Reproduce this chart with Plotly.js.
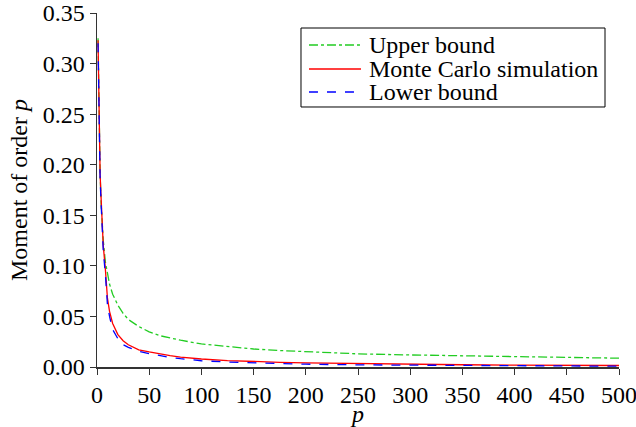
<!DOCTYPE html>
<html>
<head>
<meta charset="utf-8">
<script src="https://cdn.plot.ly/plotly-3.0.1.min.js"></script>
<style>html,body{margin:0;padding:0;background:#fff;}#chart{width:636px;height:427px;}</style>
</head>
<body>
<div id="chart"></div>
<script>
const pValues = [1,2,3,4,5,6,8,10,12,15,20,25,30,40,50,60,70,80,100,125,150,175,200,250,300,350,400,450,500];
const upperBound = [0.325,0.245,0.19,0.161,0.141,0.125,0.104,0.091,0.082,0.072,0.061,0.053,0.047,0.040,0.0347,0.031,0.0285,0.0265,0.0228,0.020,0.0178,0.0163,0.015,0.0130,0.0119,0.0109,0.0102,0.0095,0.0087];
const monteCarlo = [0.323,0.235,0.19,0.165,0.14,0.12,0.097,0.068,0.055,0.043,0.032,0.026,0.022,0.017,0.0149,0.0128,0.0112,0.0098,0.0079,0.0064,0.0053,0.0046,0.0040,0.0032,0.0026,0.0022,0.0019,0.0017,0.0015];
const lowerBound = [0.32,0.23,0.185,0.16,0.135,0.115,0.092,0.062,0.050,0.037,0.028,0.022,0.0195,0.0155,0.0132,0.011,0.0095,0.0082,0.0062,0.0049,0.0040,0.0033,0.0028,0.0021,0.0017,0.0014,0.0011,0.0010,0.0008];
const seriesNames = ["Upper bound","Monte Carlo simulation","Lower bound"];
const seriesColors = ["#22cc22","#ff0000","#0000ff"];
const seriesDash = ["dashdot","solid","dash"];
const seriesData = [upperBound, monteCarlo, lowerBound];

const font = "Liberation Serif";
const traces = seriesData.map((ys, i) => ({
  x: pValues, y: ys, name: seriesNames[i], mode: "lines", showlegend: false,
  line: {color: seriesColors[i], width: 1.3, dash: seriesDash[i]}
}));

// Boxed legend drawn in paper coordinates (plot area fractions)
const legendRows = [0.9096, 0.8418, 0.7768];
const shapes = [{type:"rect", xref:"paper", yref:"paper", x0:0.3908, x1:0.9732, y0:0.7345, y1:0.9576, line:{color:"#000", width:1}, fillcolor:"#fff", layer:"above"}];
const annotations = [];
seriesNames.forEach((n, i) => {
  shapes.push({type:"line", xref:"paper", yref:"paper", x0:0.4061, x1:0.5057, y0:legendRows[i], y1:legendRows[i], line:{color:seriesColors[i], width:1.3, dash:seriesDash[i]}, layer:"above"});
  annotations.push({xref:"paper", yref:"paper", x:0.5172, y:legendRows[i], xanchor:"left", yanchor:"middle", showarrow:false, text:n, font:{family:font, size:24, color:"#000"}});
});

const layout = {
  width:636, height:427,
  margin:{l:97, r:17, t:13, b:60},
  paper_bgcolor:"#fff", plot_bgcolor:"#fff",
  font:{family:font, size:24, color:"#000"},
  showlegend:false,
  shapes: shapes,
  annotations: annotations,
  xaxis:{range:[0,500], tick0:0, dtick:50, showgrid:false, zeroline:false, showline:true, linecolor:"#333", linewidth:1.5, ticks:"outside", ticklen:6, tickcolor:"#333", ticklabeloverflow:"allow", tickfont:{family:font, size:24, color:"#000"}, title:{text:"<i>p</i>", font:{family:font, size:24, color:"#000"}, standoff:8}},
  yaxis:{range:[0,0.35], tick0:0, dtick:0.05, tickformat:".2f", showgrid:false, zeroline:false, showline:true, linecolor:"#333", linewidth:1.5, ticks:"outside", ticklen:6, tickcolor:"#333", tickfont:{family:font, size:24, color:"#000"}, title:{text:"Moment of order <i>p</i>", font:{family:font, size:24, color:"#000"}, standoff:8}}
};
Plotly.newPlot("chart", traces, layout, {displayModeBar:false, staticPlot:true});
</script>
</body>
</html>
